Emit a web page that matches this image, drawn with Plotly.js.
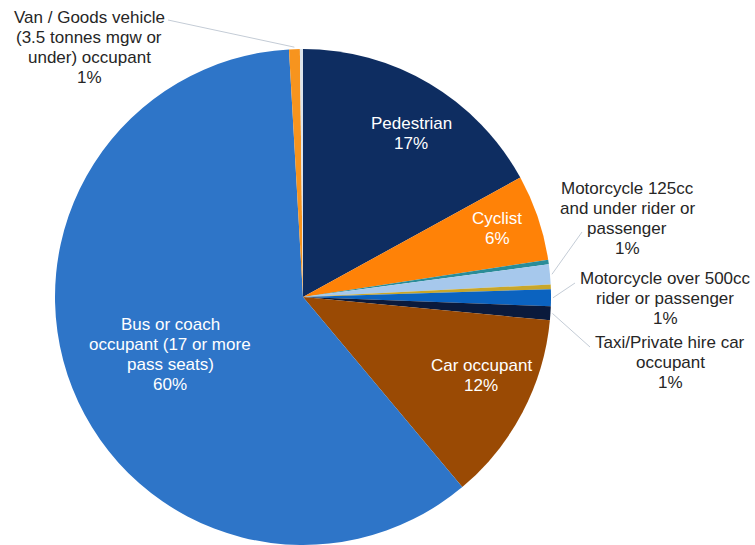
<!DOCTYPE html>
<html>
<head>
<meta charset="utf-8">
<script src="https://cdn.plot.ly/plotly-3.0.1.min.js"></script>
<style>html,body{margin:0;padding:0;background:#fff;}#chart{width:755px;height:545px;}</style>
</head>
<body>
<div id="chart"></div>
<script>
// ---- data (clockwise from 12 o'clock) ----
const categories = [
  "Pedestrian",
  "Cyclist",
  "Motorcycle 50cc and under rider or passenger",
  "Motorcycle 125cc and under rider or passenger",
  "Motorcycle 125cc to 500cc rider or passenger",
  "Motorcycle over 500cc rider or passenger",
  "Taxi/Private hire car occupant",
  "Car occupant",
  "Bus or coach occupant (17 or more pass seats)",
  "Van / Goods vehicle (3.5 tonnes mgw or under) occupant",
  "Other"
];
const values = [17.0, 5.6, 0.3, 1.3, 0.3, 1.1, 0.9, 12.4, 60.2, 0.7, 0.2];
const labelLines = [
  "Pedestrian",
  "Cyclist",
  "",
  "Motorcycle 125cc<br>and under rider or<br>passenger",
  "",
  "Motorcycle over 500cc<br>rider or passenger",
  "Taxi/Private hire car<br>occupant",
  "Car occupant",
  "Bus or coach<br>occupant (17 or more<br>pass seats)",
  "Van / Goods vehicle<br>(3.5 tonnes mgw or<br>under) occupant",
  ""
];
const colors = ["#0E2D61", "#FF8207", "#2A8C98", "#A6C8EC", "#C8A62A", "#0B63C0",
                "#0A1A3C", "#9A4A04", "#2E75C8", "#F7941E", "#DCE4EC"];

// ---- layout constants (pixels) ----
const W = 755, H = 545;
const CX = 303, CY = 297, R = 248;
const LINE_H = 20;
// label placement: [centerX, centerY, inside?, leaderStartX, leaderStartY]
const labelPos = {
  0: [411, 133, true],
  1: [497, 228.5, true],
  3: [627, 219, false, 582, 232],
  5: [665, 298, false, 575, 283],
  6: [670, 362, false, 590, 347],
  7: [481, 375.5, true],
  8: [170, 354, true],
  9: [89, 47.5, false, 168, 20]
};

const px = x => x / W;
const py = y => 1 - y / H;

const total = values.reduce((a, b) => a + b, 0);
const annotations = [];
const shapes = [];
let cum = 0;
values.forEach((v, i) => {
  const mid = (cum + v / 2) / total * 2 * Math.PI;
  cum += v;
  const p = labelPos[i];
  if (!p) return;
  const lines = labelLines[i].split("<br>");
  lines.push(Math.round(v / total * 100) + "%");
  const n = lines.length;
  lines.forEach((ln, k) => {
    annotations.push({
      x: px(p[0]), y: py(p[1] + (k - (n - 1) / 2) * LINE_H),
      xref: "paper", yref: "paper",
      xanchor: "center", yanchor: "middle", align: "center",
      text: ln, showarrow: false,
      font: {family: "Liberation Sans, Arial, sans-serif", size: 17,
             color: p[2] ? "#ffffff" : "#262626"}
    });
  });
  if (!p[2]) {
    const ex = CX + (R + 2) * Math.sin(mid);
    const ey = CY - (R + 2) * Math.cos(mid);
    shapes.push({
      type: "line", xref: "paper", yref: "paper",
      x0: px(p[3]), y0: py(p[4]), x1: px(ex), y1: py(ey),
      line: {color: "#C4CCD6", width: 1}
    });
  }
});

const trace = {
  type: "pie",
  labels: categories,
  values: values,
  sort: false,
  direction: "clockwise",
  rotation: 0,
  textinfo: "none",
  hoverinfo: "label+percent",
  marker: {colors: colors, line: {width: 0}},
  domain: {x: [(CX - R) / W, (CX + R) / W], y: [(H - CY - R) / H, (H - CY + R) / H]},
  showlegend: false
};

const layout = {
  width: W, height: H,
  margin: {l: 0, r: 0, t: 0, b: 0},
  paper_bgcolor: "#ffffff",
  showlegend: false,
  annotations: annotations,
  shapes: shapes
};

Plotly.newPlot("chart", [trace], layout, {displayModeBar: false, staticPlot: true});
</script>
</body>
</html>
